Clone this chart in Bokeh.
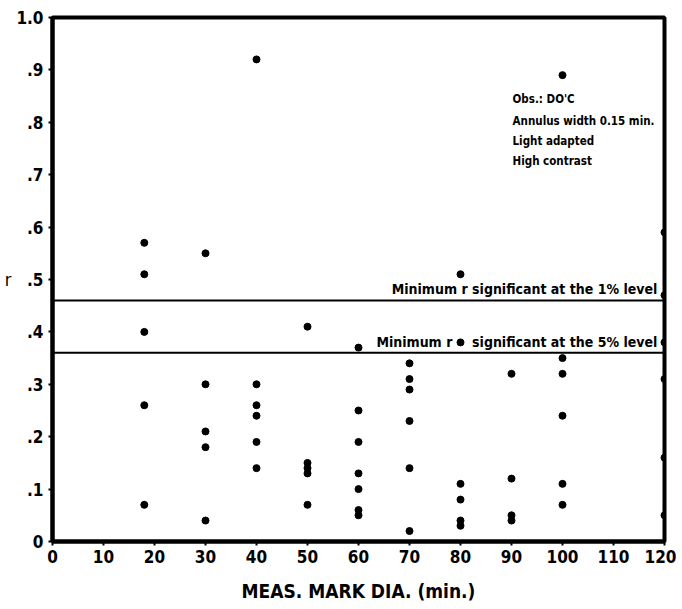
from bokeh.plotting import figure
from bokeh.models import Span, Label, FixedTicker, Range1d
from bokeh.embed import file_html
from bokeh.resources import INLINE

FONT = "DejaVu Sans Condensed, Roboto, sans-serif"

# ---- data ----
x18 = [18, 18, 18, 18, 18]
r18 = [0.57, 0.51, 0.40, 0.26, 0.07]
x30 = [30, 30, 30, 30, 30]
r30 = [0.55, 0.30, 0.21, 0.18, 0.04]
x40 = [40, 40, 40, 40, 40, 40]
r40 = [0.92, 0.30, 0.26, 0.24, 0.19, 0.14]
x50 = [50, 50, 50, 50, 50]
r50 = [0.41, 0.15, 0.14, 0.13, 0.07]
x60 = [60, 60, 60, 60, 60, 60, 60]
r60 = [0.37, 0.25, 0.19, 0.13, 0.10, 0.06, 0.05]
x70 = [70, 70, 70, 70, 70, 70]
r70 = [0.34, 0.31, 0.29, 0.23, 0.14, 0.02]
x80 = [80, 80, 80, 80, 80, 80]
r80 = [0.51, 0.38, 0.11, 0.08, 0.04, 0.03]
x90 = [90, 90, 90, 90]
r90 = [0.32, 0.12, 0.05, 0.04]
x100 = [100, 100, 100, 100, 100, 100]
r100 = [0.89, 0.35, 0.32, 0.24, 0.11, 0.07]
x120 = [120, 120, 120, 120, 120, 120]
r120 = [0.59, 0.47, 0.38, 0.31, 0.16, 0.05]

r_1pct = 0.46
r_5pct = 0.36
label_1pct = "Minimum r significant at the 1% level"
label_5pct_a = "Minimum r"
label_5pct_b = "significant at the 5% level"

x_ticks = [0, 10, 20, 30, 40, 50, 60, 70, 80, 90, 100, 110, 120]
y_ticks = [0, 0.1, 0.2, 0.3, 0.4, 0.5, 0.6, 0.7, 0.8, 0.9, 1.0]
y_tick_labels = ["0", ".1", ".2", ".3", ".4", ".5", ".6", ".7", ".8", ".9", "1.0"]

note_lines = ["Obs.: DO'C", "Annulus width 0.15 min.", "Light adapted", "High contrast"]
note_x = 90.2
note_y = [0.844, 0.803, 0.764, 0.726]
sig_label_x = 118.6
sig_label_a_x = 78.4

xs = x18 + x30 + x40 + x50 + x60 + x70 + x80 + x90 + x100 + x120
rs = r18 + r30 + r40 + r50 + r60 + r70 + r80 + r90 + r100 + r120

p = figure(width=676, height=608, output_backend="svg", toolbar_location=None,
           x_range=Range1d(0, 120), y_range=Range1d(0, 1.0),
           min_border_left=52, min_border_right=12, min_border_top=17, min_border_bottom=67)
p.background_fill_color = "white"
p.border_fill_color = "white"
p.outline_line_color = "black"
p.outline_line_width = 4
p.grid.visible = False

p.scatter(xs, rs, size=7, color="black")


def sig_label(x, y, txt):
    p.add_layout(Label(x=x, y=y, y_offset=3, text=txt, text_align="right",
                       text_baseline="bottom", text_font=FONT, text_font_style="bold",
                       text_font_size="14px", text_color="black"))


p.add_layout(Span(location=r_1pct, dimension="width", line_color="black", line_width=2))
p.add_layout(Span(location=r_5pct, dimension="width", line_color="black", line_width=2))
sig_label(sig_label_x, r_1pct, label_1pct)
sig_label(sig_label_a_x, r_5pct, label_5pct_a)
sig_label(sig_label_x, r_5pct, label_5pct_b)

for t, yy in zip(note_lines, note_y):
    p.add_layout(Label(x=note_x, y=yy, text=t, text_align="left", text_baseline="middle",
                       text_font=FONT, text_font_style="bold", text_font_size="11.5px",
                       text_color="black"))

for ax in (p.xaxis[0], p.yaxis[0]):
    ax.axis_line_width = 4
    ax.axis_line_color = "black"
    ax.major_tick_line_width = 2
    ax.major_tick_line_color = "black"
    ax.major_tick_out = 4
    ax.major_tick_in = 0
    ax.minor_tick_line_color = None
    ax.major_label_text_font = FONT
    ax.major_label_text_font_style = "bold"
    ax.major_label_text_font_size = "17px"
    ax.major_label_text_color = "black"
    ax.axis_label_text_font = FONT
    ax.axis_label_text_color = "black"

p.xaxis.ticker = FixedTicker(ticks=x_ticks)
p.xaxis.major_label_standoff = 4
p.xaxis.axis_label = "MEAS. MARK DIA. (min.)"
p.xaxis.axis_label_text_font_style = "bold"
p.xaxis.axis_label_text_font_size = "19px"
p.xaxis.axis_label_standoff = 14

p.yaxis.ticker = FixedTicker(ticks=y_ticks)
p.yaxis.major_label_overrides = dict(zip(y_ticks, y_tick_labels))
p.yaxis.major_label_standoff = 5
p.yaxis.axis_label = "r"
p.yaxis.axis_label_orientation = "horizontal"
p.yaxis.axis_label_text_font_style = "normal"
p.yaxis.axis_label_text_font_size = "18px"
p.yaxis.axis_label_standoff = 2

open("out.html", "w").write(file_html(p, INLINE))
